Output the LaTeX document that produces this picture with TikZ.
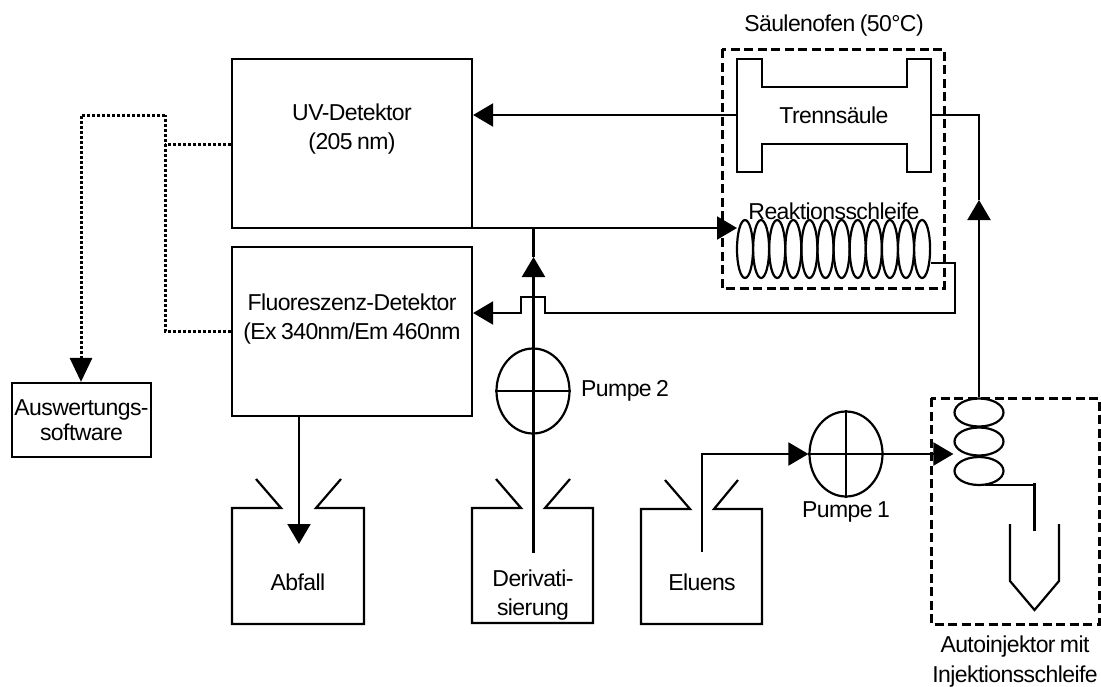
\documentclass[tikz,border=0pt]{standalone}
\usepackage{fontspec}
\setmainfont[LetterSpace=-2.5,WordSpace=0.75]{Liberation Sans}
\usetikzlibrary{arrows.meta,shapes.geometric}
\tikzset{
  box/.style={rectangle,draw,line width=2.2pt,inner sep=0pt},
  label/.style={inner sep=0pt,align=center},
  coil/.style={ellipse,draw,line width=2.2pt,inner sep=0pt},
  pump/.style={ellipse,draw,line width=2.2pt,inner sep=0pt,minimum width=73pt,minimum height=85pt},
  pipe/.style={line width=2.2pt},
  flow/.style={line width=2.2pt,-{Triangle[length=20pt,width=23pt]}},
  signal/.style={line width=3pt,dash pattern=on 3pt off 2pt},
  oven/.style={line width=3pt,dash pattern=on 9pt off 4.5pt},
}
\begin{document}
\begin{tikzpicture}[x=1pt,y=-1pt,font=\fontsize{23}{29.5}\selectfont]
\useasboundingbox (0,0) rectangle (1101,686);
% boxes
\node[box,minimum width=240pt,minimum height=169pt] (uv) at (352,143.5) {};
\node[box,minimum width=240pt,minimum height=169pt] (fluor) at (352,331.5) {};
\node[box,minimum width=139pt,minimum height=74pt,align=center] (soft) at (81.5,420) {Auswertungs-\\[-4pt]software};
\node[label] (uvtext) at (352,129) {UV-Detektor\\(205 nm)};
\node[label] (fluortext) at (352,319) {Fluoreszenz-Detektor\\(Ex 340nm/Em 460nm};
% column
\draw[pipe] (737,59) -- (762,59) -- (762,87) -- (907,87) -- (907,59) -- (931,59) -- (931,172) -- (907,172) -- (907,144) -- (762,144) -- (762,172) -- (737,172) -- cycle;
\node[label] (trenn) at (834,115) {Trennsäule};
\coordinate (trennin) at (931,115);
\coordinate (trennout) at (737,115);
% reaction coil
\foreach \i in {0,...,11} {
  \node[coil,minimum width=16pt,minimum height=58pt] (r\i) at ({745+16.1*\i},249) {};
}
\node[label] (reakt) at (834,211) {Reaktionsschleife};
% tanks
\draw[pipe] (256,479) -- (281,508) -- (232,508) -- (232,624) -- (364,624) -- (364,508) -- (316,508) -- (341,479);
\draw[pipe] (496,479) -- (521,508) -- (472,508) -- (472,623) -- (593,623) -- (593,508) -- (545,508) -- (570,479);
\draw[pipe] (665,480) -- (690,509) -- (641,509) -- (641,624) -- (762,624) -- (762,509) -- (714,509) -- (738,480);
\node[label] (abfall) at (298,582) {Abfall};
\node[label] (deriv) at (533,595) {Derivati-\\sierung};
\node[label] (eluens) at (702,582) {Eluens};
% pumps
\node[pump] (p2) at (533,391) {};
\node[pump] (p1) at (846,454) {};
\draw[pipe] (p2.west) -- (p2.east);
\draw[pipe] (p1.west) -- (p1.east) (p1.north) -- (p1.south);
\node[label,anchor=west] (p2text) at (581,391) {Pumpe 2};
\node[label] (p1text) at (846,512) {Pumpe 1};
% injector
\foreach \i/\y in {0/412.5,1/441.5,2/471} {
  \node[coil,minimum width=49pt,minimum height=28pt] (s\i) at (979,\y) {};
}
\draw[pipe] (1010,524) -- (1010,581) -- (1034.5,610) -- (1059,581) -- (1059,524);
\coordinate (needle) at (1034.5,485);
\coordinate (needletop) at (1034.5,483);
\coordinate (needleend) at (1034.5,531);
\draw[pipe] (985,485) -- (needle);
\draw[pipe] (needletop) -- (needleend);
\node[label] (inj) at (1015,661.5) {Autoinjektor mit\\Injektionsschleife};
% ovens
\draw[oven] (722,49) rectangle (944,288);
\draw[oven] (931,398) rectangle (1099,624);
\node[label] (ofen) at (834,26) {Säulenofen (50°C)};
% flow lines
\coordinate (uvout) at (472,228);
\coordinate (coiltip) at (737,228);
\coordinate (join) at (533.5,228);
\coordinate (dertip) at (533.5,257);
\coordinate (derend) at (533.5,553);
\draw[flow] (uvout) -- (coiltip);
\draw[flow] (derend) -- (dertip);
\draw[pipe] (dertip) -- (join);
\draw[flow] (trennout) -- (trennout -| uv.east);
\draw[pipe] (trennin) -- (979,115) -- (979,200);
\draw[flow] (s0.north) -- (979,200);
\draw[flow] (931,263) -- (955,263) -- (955,313) -- (545,313) -- (545,297) -- (521,297) -- (521,313) -- (521,313 -| fluor.east);
\coordinate (eluin) at (702,552);
\draw[flow] (eluin) -- (702,454) -- (p1.west);
\draw[flow] (p1.east) -- (s0.west |- p1.east);
\coordinate (wasteout) at (299,416);
\coordinate (wastetip) at (299,544);
\draw[flow] (wasteout) -- (wastetip);
% signal lines
\coordinate (sigtop) at (165,115);
\coordinate (sigbot) at (165,331);
\coordinate (sigout) at (81,115);
\draw[signal] (uv.west |- 0,144) -- (165,144);
\draw[signal] (fluor.west |- sigbot) -- (sigbot) -- (sigtop);
\draw[signal,-{Triangle[length=24pt,width=22pt]}] (sigtop) -- (sigout) -- (soft.north -| sigout);
\end{tikzpicture}
\end{document}
